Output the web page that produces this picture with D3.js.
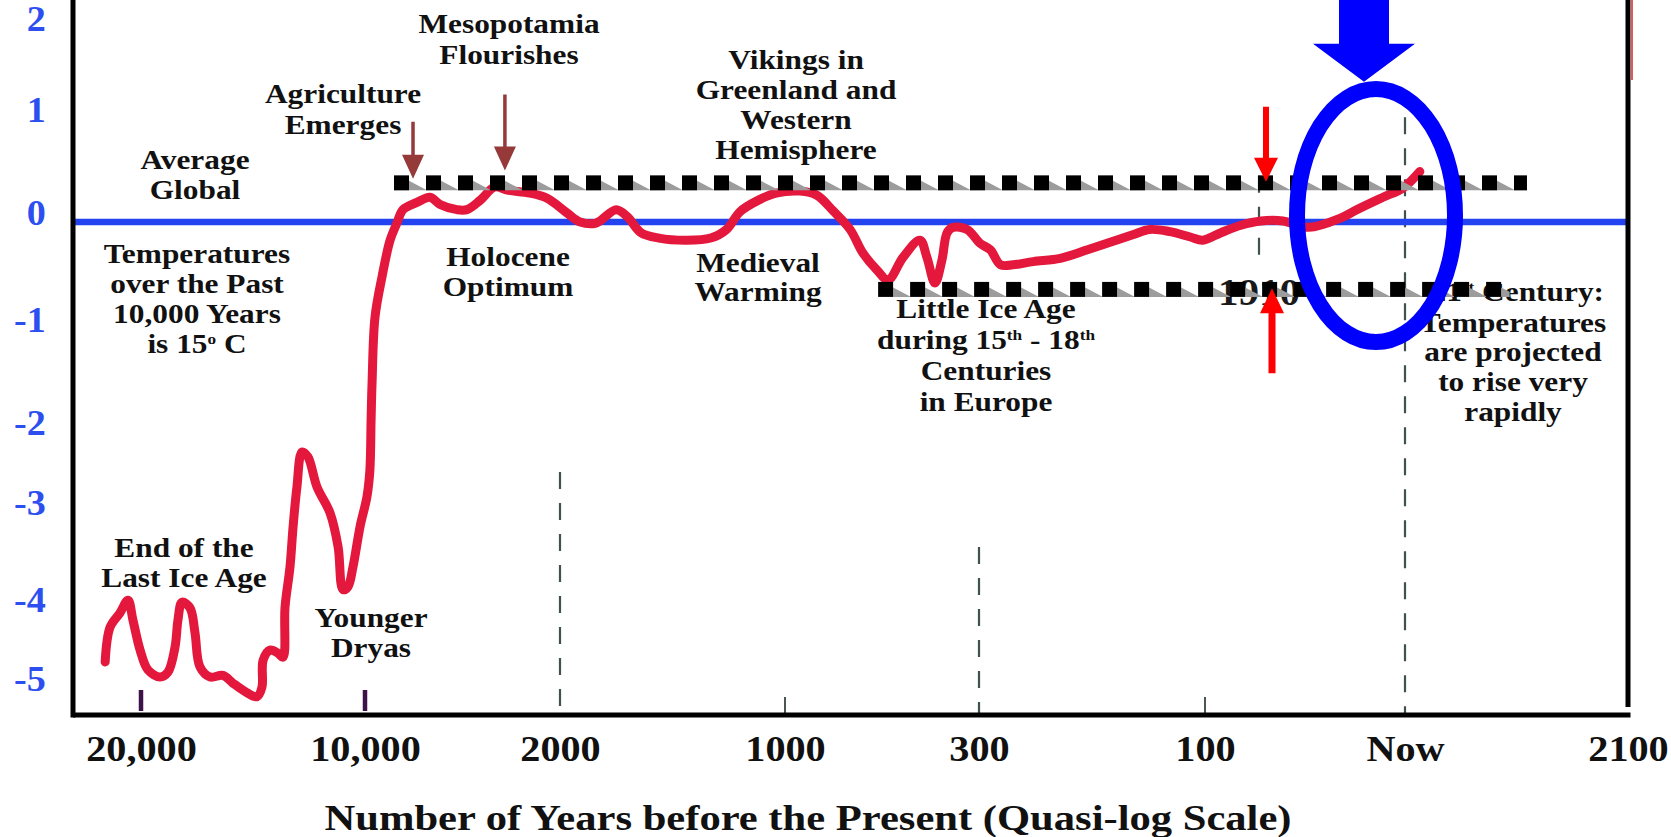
<!DOCTYPE html>
<html><head><meta charset="utf-8">
<script src="https://cdn.jsdelivr.net/npm/d3@7"></script>
<style>body{margin:0;background:#fff} svg{display:block}</style>
</head><body>
<svg id="chart" width="1671" height="837"></svg>
<script>
// ---------------- DATA ----------------
const yTicks = [2, 1, 0, -1, -2, -3, -4, -5];
const xTickValues = [20000, 10000, 2000, 1000, 300, 100, 0, -90];   // years before present (2100 = -90)
const xTickLabels = ["20,000", "10,000", "2000", "1000", "300", "100", "Now", "2100"];

// temperature anomaly curve (°C vs 10,000-yr mean), x = years before present
const yearsBP = [21600,21380,20940,20580,20360,20040,19690,19150,18800,18480,18350,18170,17810,17590,17370,16920,16340,15890,15270,14820,14600,14550,14240,13880,13660,13570,13350,13210,13040,12810,12550,12140,11560,11200,10980,10760,10540,10220,9920,9800,9750,9710,9590,9300,8970,8690,8440,7870,7330,6920,6230,5820,5280,4670,4170,3230,2530,1970,1910,1840,1750,1700,1640,1560,1440,1330,1260,1200,1120,1040,946,885,827,765,719,668,628,574,513,488,459,434,415,394,343,299,290,281,270,252,228,204,184,164,149,131,113,102,92,82,72,61,48,32,24,11,1,-6];
const tempAnomaly = [-4.67,-4.23,-4.05,-3.91,-4.14,-4.52,-4.77,-4.86,-4.80,-4.48,-4.14,-3.93,-3.99,-4.30,-4.73,-4.86,-4.84,-4.94,-5.06,-5.11,-4.99,-4.65,-4.52,-4.56,-4.61,-3.98,-3.57,-3.15,-2.69,-2.25,-2.31,-2.69,-3.01,-3.36,-3.80,-3.77,-3.57,-3.15,-2.81,-2.48,-1.88,-1.52,-0.89,-0.51,-0.17,-0.01,0.12,0.19,0.24,0.17,0.12,0.12,0.21,0.34,0.31,0.28,0.23,0.09,0.00,-0.01,0.12,0.05,-0.10,-0.15,-0.17,-0.15,-0.07,0.10,0.21,0.28,0.30,0.26,0.11,-0.07,-0.29,-0.45,-0.54,-0.33,-0.17,-0.33,-0.57,-0.36,-0.10,-0.05,-0.07,-0.20,-0.26,-0.40,-0.40,-0.37,-0.34,-0.26,-0.19,-0.12,-0.07,-0.09,-0.14,-0.17,-0.10,-0.03,0.01,0.01,-0.05,0.04,0.12,0.24,0.33,0.49];

// reference guides
const dashedYears = [2000, 300, 0, 73];
const dashedTop = [-2.5, -3.36, 1.02, 0.45];
const dashedBottom = [null, null, null, -0.37];
const smallTickYears = [1000, 100];
const purpleTickYears = [20000, 10000];
const bandLevels = [0.38, -0.63];          // dotted horizontal bands
const bandFrom = [8810, 664];
const bandTo = [-46, -39];

// ---------------- LAYOUT ----------------
const W = 1671, H = 837;
const plotLeft = 73, plotRight = 1628, plotBottom = 715;
const serif = "'Liberation Serif','Times New Roman',serif";
const svg = d3.select("#chart");

// quasi-log x scale and hand-spaced y scale
const x = d3.scaleLinear().domain(xTickValues).range([141, 365, 560, 785, 979, 1205, 1405, 1628]);
const y = d3.scaleLinear().domain(yTicks).range([28, 119, 222, 329, 432, 512, 609, 688]);

// dashed vertical guides
dashedYears.forEach((yr, i) => {
  svg.append("line")
    .attr("x1", x(yr)).attr("x2", x(yr))
    .attr("y1", y(dashedTop[i]))
    .attr("y2", dashedBottom[i] === null ? plotBottom : y(dashedBottom[i]))
    .attr("stroke", "#40524f").attr("stroke-width", 2.2)
    .attr("stroke-dasharray", "17,14");
});
smallTickYears.forEach(yr => {
  svg.append("line").attr("x1", x(yr)).attr("x2", x(yr))
    .attr("y1", plotBottom - 18).attr("y2", plotBottom)
    .attr("stroke", "#4a5654").attr("stroke-width", 2);
});
purpleTickYears.forEach(yr => {
  svg.append("line").attr("x1", x(yr)).attr("x2", x(yr))
    .attr("y1", plotBottom - 25).attr("y2", plotBottom - 4)
    .attr("stroke", "#3d1248").attr("stroke-width", 4.5);
});

// zero line
svg.append("line").attr("x1", plotLeft).attr("x2", plotRight)
  .attr("y1", y(0)).attr("y2", y(0))
  .attr("stroke", "#2342f0").attr("stroke-width", 6.5);

// axes frame
svg.append("line").attr("x1", plotLeft).attr("x2", plotLeft).attr("y1", 0).attr("y2", plotBottom + 2.5)
  .attr("stroke", "#000").attr("stroke-width", 5);
svg.append("line").attr("x1", plotLeft).attr("x2", plotRight + 2.5).attr("y1", plotBottom).attr("y2", plotBottom)
  .attr("stroke", "#000").attr("stroke-width", 5);
svg.append("line").attr("x1", plotRight).attr("x2", plotRight).attr("y1", 0).attr("y2", plotBottom - 8)
  .attr("stroke", "#000").attr("stroke-width", 5);
svg.append("line").attr("x1", plotRight + 4).attr("x2", plotRight + 4).attr("y1", 0).attr("y2", 80)
  .attr("stroke", "#e02020").attr("stroke-width", 1.5);

// red temperature curve
const pts = yearsBP.map((d, i) => [d, tempAnomaly[i]]);
svg.append("path")
  .attr("d", d3.line().x(d => x(d[0])).y(d => y(d[1])).curve(d3.curveCatmullRom.alpha(0.5))(pts))
  .attr("fill", "none").attr("stroke", "#e3183c").attr("stroke-width", 9)
  .attr("stroke-linejoin", "round").attr("stroke-linecap", "round");

// y tick labels
const yAxis = svg.append("g").attr("transform", `translate(49,-9)`)
  .call(d3.axisLeft(y).tickValues(yTicks).tickSize(0).tickFormat(d => String(d)));
yAxis.select(".domain").remove();
yAxis.selectAll("text").attr("font-family", serif).attr("font-weight", "bold")
  .attr("font-size", 36).attr("fill", "#2d4ff0").attr("transform", "scale(1.06,1)");

// x tick labels
const xAxis = svg.append("g").attr("transform", `translate(0,${plotBottom})`)
  .call(d3.axisBottom(x).tickValues(xTickValues).tickSize(0).tickFormat((d, i) => xTickLabels[i]));
xAxis.select(".domain").remove();
xAxis.selectAll("text").attr("font-family", serif).attr("font-weight", "bold")
  .attr("font-size", 35).attr("fill", "#111").attr("y", 34).attr("dy", "0.35em")
  .attr("transform", "scale(1.15,1)");

// axis title
svg.append("text").attr("x", 808).attr("y", 818).attr("dy", "0.35em")
  .attr("text-anchor", "middle").attr("font-family", serif).attr("font-weight", "bold")
  .attr("font-size", 35).attr("textLength", 967).attr("lengthAdjust", "spacingAndGlyphs")
  .attr("fill", "#111")
  .text("Number of Years before the Present (Quasi-log Scale)");

// dotted bands (black squares with grey shadow wedge)
let clipId = 0;
function band(level, from, to) {
  const px0 = x(from), px1 = x(to), py = y(level);
  const id = "clip" + (clipId++);
  svg.append("clipPath").attr("id", id).append("rect")
    .attr("x", px0 - 2).attr("y", py - 20).attr("width", px1 - px0 + 10).attr("height", 40);
  const g = svg.append("g").attr("clip-path", `url(#${id})`);
  for (let p = px0; p < px1; p += 32) {
    g.append("polygon")
      .attr("points", `${p + 15},${py - 2} ${p + 15},${py + 7.5} ${p + 33},${py + 7.5}`)
      .attr("fill", "#9c9c9c");
    g.append("rect").attr("x", p).attr("y", py - 7.5).attr("width", 15).attr("height", 15).attr("fill", "#000");
  }
}

// annotations
function label(cx, cy, lines, opt = {}) {
  const fs = opt.fs || 28, lh = opt.lh || 30, sx = opt.sx || 1.12, anchor = opt.anchor || "middle";
  const g = svg.append("g").attr("transform", `translate(${cx},${cy}) scale(${sx},1)`);
  lines.forEach((ln, i) => {
    const t = g.append("text").attr("x", 0).attr("y", i * lh).attr("dy", "0.35em")
      .attr("text-anchor", anchor).attr("font-family", serif).attr("font-weight", "bold")
      .attr("font-size", fs).attr("fill", opt.fill || "#111");
    (Array.isArray(ln) ? ln : [[ln, false]]).forEach(([s, sup]) => {
      const ts = t.append("tspan").text(s);
      if (sup) ts.attr("baseline-shift", "super").attr("font-size", fs * 0.55);
    });
  });
}

function arrow(cx, tipY, len, dir, headW, headL, shaftW, color, opacity) {
  // dir = 1: pointing down (tip at bottom); -1: pointing up
  const base = tipY - dir * headL, tail = tipY - dir * len;
  const pts = [
    [cx - shaftW / 2, tail], [cx + shaftW / 2, tail], [cx + shaftW / 2, base],
    [cx + headW / 2, base], [cx, tipY], [cx - headW / 2, base], [cx - shaftW / 2, base]
  ];
  svg.append("polygon").attr("points", pts.map(p => p.join(",")).join(" "))
    .attr("fill", color).attr("opacity", opacity || 1);
}

label(509, 23.5, ["Mesopotamia", "Flourishes"], {lh: 30.5});
label(343, 93, ["Agriculture", "Emerges"], {lh: 31});
label(195, 159, ["Average", "Global"]);
label(197, 253, ["Temperatures", "over the Past", "10,000 Years", [["is 15", false], ["o", true], [" C", false]]]);
label(508, 256, ["Holocene", "Optimum"]);
label(796, 59, ["Vikings in", "Greenland and", "Western", "Hemisphere"]);
label(758, 262, ["Medieval", "Warming"], {lh: 29});
label(986, 308, ["Little Ice Age", [["during 15", false], ["th", true], [" - 18", false], ["th", true]], "Centuries", "in Europe"], {lh: 31});
label(184, 547, ["End of the", "Last Ice Age"]);
label(371, 617, ["Younger", "Dryas"]);
label(1604, 291, [[["21", false], ["st", true], [" Century:", false]]], {anchor: "end"});
label(1513, 322, ["Temperatures", "are projected", "to rise very", "rapidly"], {lh: 29.7});
label(1259, 292, ["1910"], {fs: 38, sx: 1.08, fill: "#1a1a1a"});

// brown arrows
arrow(x(8030), y(0.42), 57, 1, 22, 24, 3.5, "#8a2424", 0.9);
arrow(x(4260), y(0.50), 76, 1, 22, 24, 3.5, "#8a2424", 0.9);

// dotted bands drawn over curve and labels
bandLevels.forEach((lv, i) => band(lv, bandFrom[i], bandTo[i]));

// red arrows at 1910
arrow(x(69.5), y(0.39), 75, 1, 24, 24, 6, "#ff0000");
arrow(x(66.5), y(-0.62), 85, -1, 24, 25, 7, "#ff0000");

// blue emphasis
svg.append("ellipse").attr("cx", x(14.5)).attr("cy", y(0.063)).attr("rx", 79).attr("ry", 126.5)
  .attr("fill", "none").attr("stroke", "#0000ff").attr("stroke-width", 16);
arrow(x(20.5), y(1.41), y(1.41) + 2, 1, 102, 38, 50, "#0000ff");
</script>
</body></html>
